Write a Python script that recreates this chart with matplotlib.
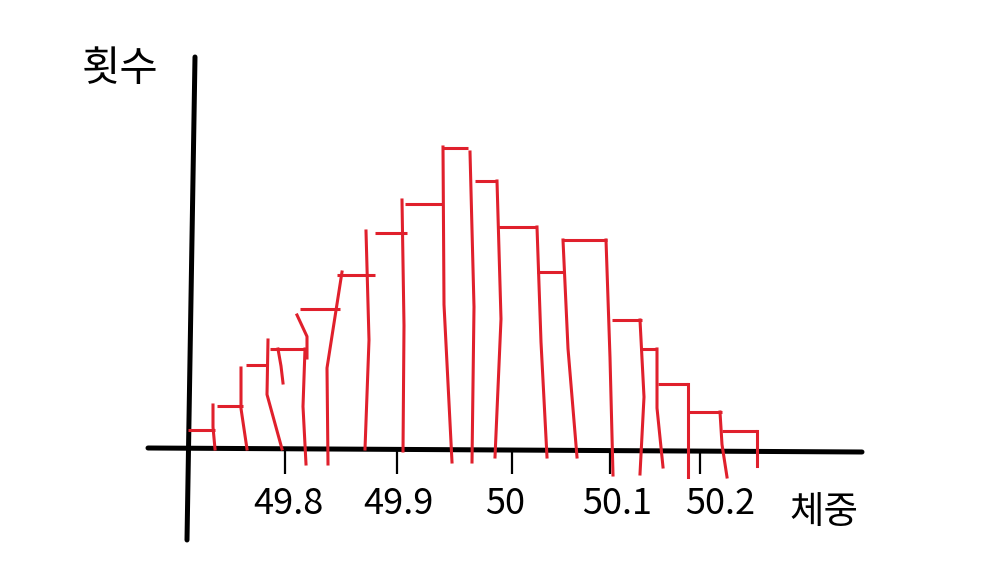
import matplotlib
matplotlib.use('Agg')
import matplotlib.pyplot as plt

plt.rcParams['font.family'] = ['Noto Sans CJK KR', 'DejaVu Sans']

# hand drawn sketch, so everything is read in sketch units (1 unit = 1 px)
# tops of the bars
bar_left = [188, 217, 246, 270, 300, 337, 375, 405, 443, 475, 497, 537, 563, 612, 640, 658, 688, 722]
bar_right = [215, 243, 267, 304, 340, 375, 407, 443, 468, 497, 537, 563, 607, 642, 657, 688, 722, 757]
bar_count = [19, 43, 84, 100, 140, 174, 216, 245, 301, 268, 222, 177, 209, 129, 100, 65, 37, 18]

# sides of the bars, wobbly: foot, middle and top x of each stroke
edge_foot = [215, 247, 282, 283, 306, 307, 328, 365, 403, 452, 472, 495, 547, 577, 613, 640, 663, 688, 727, 757]
edge_mid = [213, 241, 267, 281, 303, 307, 327, 369, 404, 444, 474, 501, 541, 568, 610, 644, 657, 688, 722, 757]
edge_top = [213, 241, 268, 278, 305, 297, 342, 366, 402, 443, 470, 497, 537, 563, 606, 640, 657, 688, 720, 757]
edge_depth = [0, 0, 0, -66, 15, -91, 15, 0, 2, 13, 13, 8, 8, 8, 26, 25, 18, 28, 28, 17]
edge_height = [44, 81, 109, 100, 100, 134, 177, 218, 249, 302, 297, 268, 222, 209, 209, 129, 100, 65, 37, 18]

tick_pos = [285, 397, 512, 610, 700]
label_pos = [288, 398, 505, 617, 720]
tick_labels = ['49.8', '49.9', '50', '50.1', '50.2']

yaxis_x = [195, 187]
yaxis_y = [392, -91]
xaxis_x = [148, 862]
xaxis_y = [1, -3]

red = '#e0202c'

fig = plt.figure(figsize=(9.88, 5.82), dpi=100)
ax = fig.add_axes([0, 0, 1, 1])
ax.set_xlim(0, 988)
ax.set_ylim(-133, 449)

for side in ax.spines.values():
    side.set_visible(False)
ax.spines['bottom'].set_position(('data', 0))

# axis lines lean a little in the sketch
ax.plot(yaxis_x, yaxis_y, color='black', lw=3.6, solid_capstyle='round', zorder=2)
ax.plot(xaxis_x, xaxis_y, color='black', lw=3.6, solid_capstyle='round', zorder=2)

ax.hlines(bar_count, bar_left, bar_right, color=red, lw=2.2, zorder=3)
for i in range(len(edge_foot)):
    ax.plot(
        [edge_foot[i], edge_mid[i], edge_top[i]],
        [-edge_depth[i], (edge_height[i] - edge_depth[i]) / 2, edge_height[i]],
        color=red,
        lw=2.2,
        zorder=3,
    )

# labels sit off their ticks, so major ticks carry the text and minor ones the marks
ax.set_xticks(label_pos, tick_labels)
ax.set_xticks(tick_pos, minor=True)
ax.tick_params(axis='x', which='major', length=0, pad=27, labelsize=26)
ax.tick_params(axis='x', which='minor', length=18, width=1.6, color='black')
ax.set_yticks([])

ax.set_xlabel('체중', fontsize=27, va='center')
ax.xaxis.set_label_coords(824 / 988, (582 - 512) / 582)
ax.set_ylabel('횟수', fontsize=30, rotation=0, va='center', ha='center')
ax.yaxis.set_label_coords(120 / 988, (582 - 70) / 582)

fig.savefig('out.png', dpi=100)
